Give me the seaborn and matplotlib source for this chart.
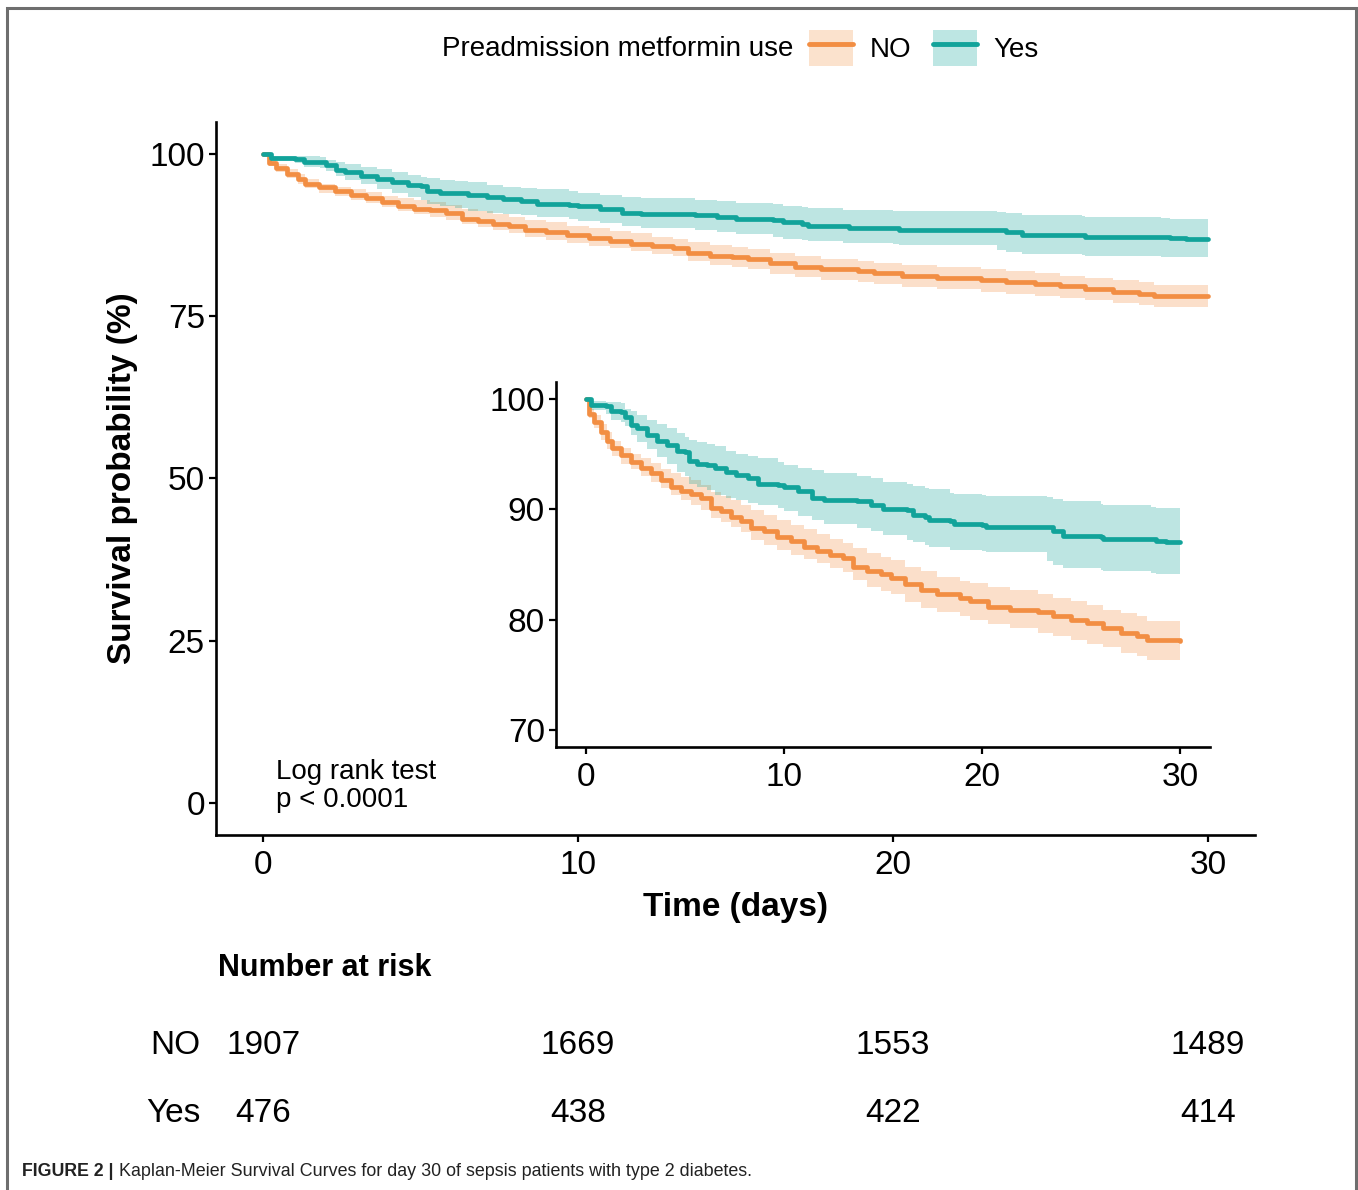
import matplotlib
matplotlib.use("Agg")
import matplotlib.pyplot as plt
import pandas as pd
import seaborn as sns
from matplotlib.legend_handler import HandlerTuple
from matplotlib.lines import Line2D
from matplotlib.patches import Patch, Rectangle

# %% Data (survival in %)
groups = ["NO", "Yes"]

yes_time = [0, 0.25, 1.0, 1.3, 1.8, 2.0, 2.3, 2.6, 3.1, 3.6, 4.1, 4.6, 5.0, 5.2, 5.6,
            6.1, 6.5, 7.1, 7.6, 8.2, 8.7, 9.7, 10.0, 10.7, 11.4, 12.0, 13.7, 14.4, 15.0,
            16.2, 16.5, 17.1, 17.3, 18.4, 18.6, 20.0, 20.2, 23.3, 23.6, 24.1, 26.0, 26.1,
            28.5, 28.8, 29.3, 30]
yes_surv = [100, 99.4, 99.3, 98.9, 98.8, 98.3, 97.6, 97.3, 96.7, 96.2, 95.8, 95.3, 95.2,
            94.4, 94.1, 94.0, 93.7, 93.4, 93.1, 92.8, 92.3, 92.2, 92.0, 91.6, 91.0, 90.8,
            90.7, 90.4, 90.0, 89.9, 89.5, 89.3, 89.0, 88.9, 88.7, 88.6, 88.4, 88.4, 88.0,
            87.6, 87.5, 87.3, 87.3, 87.1, 87.0, 87.0]
yes_upper = [100, 99.8, 99.7, 99.7, 99.6, 99.1, 98.9, 98.5, 98.1, 97.7, 97.3, 96.9, 96.5,
             96.3, 96.1, 95.9, 95.7, 95.3, 95.0, 94.8, 94.6, 94.3, 94.0, 93.7, 93.5, 93.3,
             93.0, 92.8, 92.5, 92.3, 92.1, 91.9, 91.8, 91.5, 91.4, 91.3, 91.2, 91.1, 90.9,
             90.7, 90.5, 90.4, 90.2, 90.1, 90.1, 90.1]
yes_lower = [100, 99.0, 98.6, 98.1, 97.9, 97.5, 96.7, 96.1, 95.4, 94.7, 94.1, 93.4, 93.0,
             92.3, 92.0, 91.7, 91.3, 91.0, 90.8, 90.6, 90.4, 90.1, 89.8, 89.4, 89.0, 88.7,
             88.3, 88.0, 87.7, 87.2, 87.0, 86.8, 86.6, 86.3, 86.3, 86.2, 86.1, 85.3, 85.0,
             84.7, 84.5, 84.4, 84.2, 84.1, 84.1, 84.1]

no_time = [0, 0.17, 0.42, 0.76, 1.09, 1.34, 1.76, 2.27, 2.78, 3.28, 3.78, 4.29, 4.79, 5.29,
           5.8, 6.3, 6.81, 7.31, 7.82, 8.32, 8.99, 9.66, 10.34, 11.0, 11.68, 12.35, 13.0,
           13.5, 14.2, 14.9, 15.4, 16.1, 16.9, 17.7, 18.9, 19.4, 20.3, 21.4, 22.8, 23.6,
           24.5, 25.3, 26.1, 27.0, 27.8, 28.3, 30]
no_surv = [100, 98.6, 97.9, 97.0, 96.2, 95.5, 94.9, 94.3, 93.7, 93.3, 92.6, 92.0, 91.6,
           91.4, 91.0, 90.1, 89.8, 89.3, 88.9, 88.3, 88.0, 87.5, 87.1, 86.6, 86.2, 85.9,
           85.6, 84.8, 84.4, 84.1, 83.8, 83.2, 82.7, 82.3, 82.0, 81.7, 81.2, 80.9, 80.7,
           80.3, 80.0, 79.7, 79.3, 78.8, 78.5, 78.2, 78.1]
no_upper = [100, 99.1, 98.5, 97.7, 97.0, 96.2, 95.5, 95.0, 94.6, 94.2, 93.6, 93.3, 92.9,
            92.6, 92.2, 91.6, 91.2, 90.8, 90.4, 89.9, 89.5, 89.0, 88.6, 88.2, 87.8, 87.3,
            86.9, 86.5, 86.0, 85.7, 85.4, 84.8, 84.4, 83.9, 83.5, 83.3, 83.0, 82.7, 82.3,
            82.0, 81.7, 81.3, 80.9, 80.6, 80.3, 79.9, 79.9]
no_lower = [100, 98.2, 97.3, 96.3, 95.4, 94.8, 94.1, 93.6, 93.0, 92.5, 91.9, 91.3, 90.8,
            90.4, 89.9, 89.2, 88.8, 88.4, 87.9, 87.2, 86.8, 86.3, 85.9, 85.5, 85.1, 84.7,
            84.3, 83.6, 83.0, 82.6, 82.3, 81.6, 81.1, 80.7, 80.3, 80.0, 79.6, 79.3, 78.8,
            78.5, 78.2, 77.8, 77.5, 77.0, 76.7, 76.4, 76.3]

risk_times = [0, 10, 20, 30]
risk_no = [1907, 1669, 1553, 1489]
risk_yes = [476, 438, 422, 414]

line_colors = {"NO": "#F28E43", "Yes": "#12A39A"}
band_colors = {"NO": "#FBE2CD", "Yes": "#BDE6E3"}

curves = pd.concat([
    pd.DataFrame({"time": no_time, "surv": no_surv, "lower": no_lower,
                  "upper": no_upper, "group": "NO"}),
    pd.DataFrame({"time": yes_time, "surv": yes_surv, "lower": yes_lower,
                  "upper": yes_upper, "group": "Yes"}),
], ignore_index=True)

# %% Figure setup
sns.set_theme(style="ticks")
plt.rcParams["font.family"] = ["Liberation Sans", "DejaVu Sans"]
plt.rcParams["text.color"] = "black"
plt.rcParams["axes.labelcolor"] = "black"

W, H = 1358, 1190
fig = plt.figure(figsize=(W / 100, H / 100), dpi=100)


def box(left, top, right, bottom):
    return [left / W, 1 - bottom / H, (right - left) / W, (bottom - top) / H]


def draw_curves(a):
    for g in groups:
        d = curves[curves["group"] == g]
        a.fill_between(d["time"], d["lower"], d["upper"], step="post",
                       color=line_colors[g], alpha=0.28, linewidth=0, zorder=1)
    sns.lineplot(data=curves, x="time", y="surv", hue="group", hue_order=groups,
                 palette=line_colors, estimator=None, drawstyle="steps-post",
                 linewidth=3.4, legend=False, ax=a, zorder=3)


def style_axes(a):
    sns.despine(ax=a)
    for side in ["left", "bottom"]:
        a.spines[side].set_linewidth(1.9)
        a.spines[side].set_color("black")
    a.tick_params(direction="out", length=5, width=1.6, colors="black",
                  labelsize=24, pad=3)
    a.tick_params(axis="x", pad=6)
    a.set_xlabel("")
    a.set_ylabel("")


ax = fig.add_axes(box(216, 122, 1255, 835))
draw_curves(ax)
style_axes(ax)
ax.set_xlim(-1.5, 31.5)
ax.set_ylim(-5, 105)
ax.set_xticks([0, 10, 20, 30])
ax.set_yticks([0, 25, 50, 75, 100])
ax.set_xlabel("Time (days)", fontsize=24, fontweight="bold", labelpad=8,
              color="black")
ax.set_ylabel("Survival probability (%)", fontsize=24, fontweight="bold",
              labelpad=8, color="black")
ax.text(0.4, 2.6, "Log rank test\np < 0.0001", fontsize=20, ha="left",
        va="center", linespacing=1.1)

ax_in = fig.add_axes(box(556, 382, 1210, 747))
ax_in.set_facecolor("white")
draw_curves(ax_in)
style_axes(ax_in)
ax_in.set_xlim(-1.5, 31.5)
ax_in.set_ylim(68.5, 101.5)
ax_in.set_xticks([0, 10, 20, 30])
ax_in.set_yticks([70, 80, 90, 100])

# %% Number at risk table
ax_risk = fig.add_axes(box(216, 940, 1255, 1140))
ax_risk.set_xlim(-1.5, 31.5)
ax_risk.set_ylim(200, 0)
ax_risk.axis("off")
ax_risk.text(-1.45, 28, "Number at risk", fontsize=22, fontweight="bold",
             ha="left", va="center")
for label, counts, y in [("NO", risk_no, 105), ("Yes", risk_yes, 173)]:
    ax_risk.text(-2.0, y, label, fontsize=24, ha="right", va="center", clip_on=False)
    for t, n in zip(risk_times, counts):
        ax_risk.text(t, y, str(n), fontsize=24, ha="center", va="center")

# %% Legend on top
fig.text(442 / W, 1 - 49 / H, "Preadmission metformin use", fontsize=20,
         ha="left", va="center")
handles = [(Patch(facecolor=band_colors[g], edgecolor="none"),
            Line2D([], [], color=line_colors[g], linewidth=3.5)) for g in groups]
fig.legend(handles, groups, handler_map={tuple: HandlerTuple(ndivide=1, pad=0)},
           ncol=2, loc="center left", bbox_to_anchor=(809 / W, 1 - 48 / H),
           frameon=False, fontsize=20, handlelength=1.6, handleheight=1.6,
           handletextpad=0.6, columnspacing=0.75, borderpad=0, borderaxespad=0)

# %% Frame and caption
fig.patches.append(Rectangle((7 / W, -0.05), (1356 - 7) / W, 1 - 8 / H + 0.05,
                             transform=fig.transFigure, fill=False,
                             edgecolor="#6e6e6e", linewidth=2.2))
cap_y = 1 - 1172 / H
bold_part = fig.text(22 / W, cap_y, "FIGURE 2 |", fontsize=12.8, fontweight="bold",
                     ha="left", va="center", color="#222222")
renderer = fig.canvas.get_renderer()
bb = bold_part.get_window_extent(renderer)
fig.text(bb.x1 / W + 6 / W, cap_y,
         "Kaplan-Meier Survival Curves for day 30 of sepsis patients with type 2 diabetes.",
         fontsize=12.9, ha="left", va="center", color="#222222")

fig.savefig("out.png", dpi=100)
plt.close(fig)
